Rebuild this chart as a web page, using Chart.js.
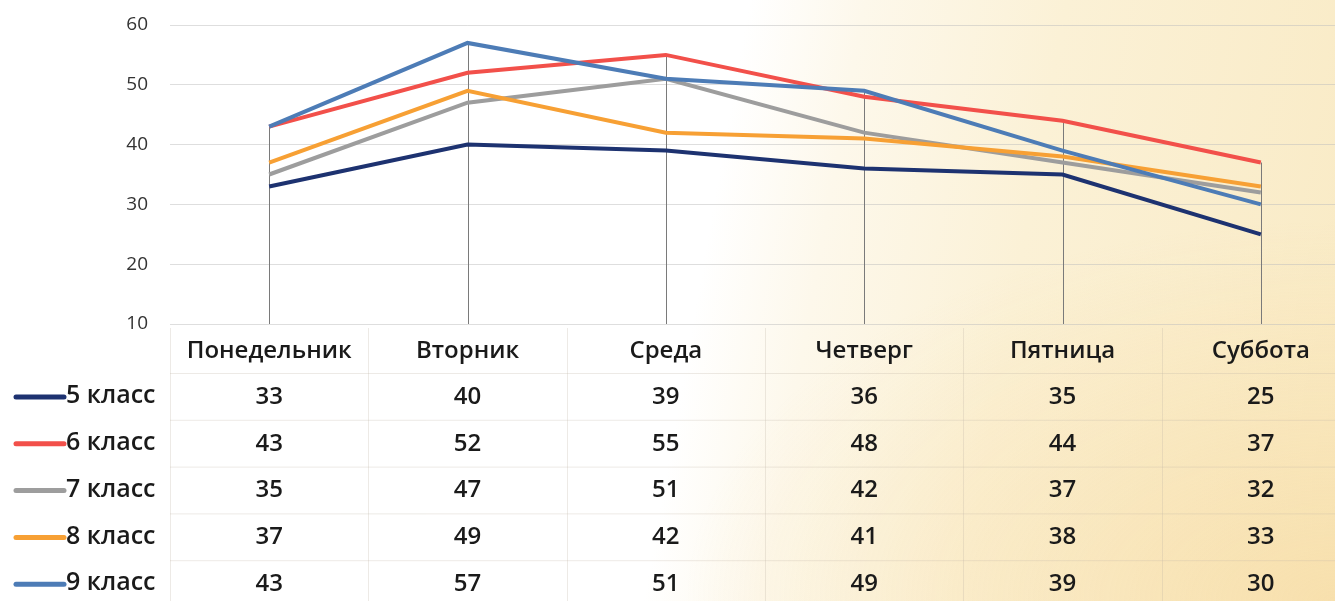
<!DOCTYPE html>
<html lang="ru">
<head>
<meta charset="utf-8">
<title>Классы по дням недели</title>
<script src="https://cdn.jsdelivr.net/npm/chart.js@4.4.1/dist/chart.umd.min.js"></script>
<style>
  html, body { margin: 0; padding: 0; width: 1335px; height: 601px; overflow: hidden; }
  body {
    background:
      radial-gradient(ellipse 650px 380px at 1335px 601px, rgba(246, 214, 150, 0.5), rgba(246, 214, 150, 0) 100%),
      linear-gradient(100deg, #ffffff 0%, #ffffff 52%, #fdf8eb 60%, #fbf1d6 74%, #f9eac4 100%);
  }
  #wrap { position: absolute; left: 0; top: 0; width: 1360px; height: 601px; }
</style>
</head>
<body>
<div id="wrap"><canvas id="chart"></canvas></div>
<script>
// === DATA ===
const days = ['Понедельник', 'Вторник', 'Среда', 'Четверг', 'Пятница', 'Суббота'];
const classNames = ['5 класс', '6 класс', '7 класс', '8 класс', '9 класс'];
const class5 = [33, 40, 39, 36, 35, 25];
const class6 = [43, 52, 55, 48, 44, 37];
const class7 = [35, 47, 51, 42, 37, 32];
const class8 = [37, 49, 42, 41, 38, 33];
const class9 = [43, 57, 51, 49, 39, 30];
const yTicks = [10, 20, 30, 40, 50, 60];

const series = [class5, class6, class7, class8, class9];
const colors = ['#1d3270', '#f2504a', '#9d9d9d', '#f7a034', '#4d7cb6'];
const FONT = '"Open Sans", "Noto Sans", sans-serif';

// drop lines from the highest point of each day down to the axis
const dropLines = {
  id: 'dropLines',
  beforeDatasetsDraw(chart) {
    const { ctx, chartArea, scales: { x, y } } = chart;
    ctx.save();
    ctx.strokeStyle = '#7a7a7a';
    ctx.lineWidth = 1;
    days.forEach((d, i) => {
      const top = Math.max(...series.map(s => s[i]));
      const px = Math.round(x.getPixelForValue(i)) + 0.5;
      ctx.beginPath();
      ctx.moveTo(px, y.getPixelForValue(top));
      ctx.lineTo(px, chartArea.bottom);
      ctx.stroke();
    });
    ctx.restore();
  }
};

// data table with legend keys under the plot
const dataTable = {
  id: 'dataTable',
  afterDraw(chart) {
    const { ctx, chartArea, scales: { x } } = chart;
    const step = x.getPixelForValue(1) - x.getPixelForValue(0);
    const headerY = 351;
    const row0 = 396;
    const rowH = 46.8;
    ctx.save();

    // faint table grid
    ctx.strokeStyle = 'rgba(190, 180, 165, 0.28)';
    ctx.lineWidth = 1;
    for (let i = 0; i <= days.length; i++) {
      const bx = Math.round(x.getPixelForValue(i) - step / 2) + 0.5;
      ctx.beginPath();
      ctx.moveTo(bx, chartArea.bottom + 4);
      ctx.lineTo(bx, 601);
      ctx.stroke();
    }
    for (let r = 0; r < classNames.length; r++) {
      const ly = Math.round(row0 - rowH / 2) + 0.5 + r * rowH;
      ctx.beginPath();
      ctx.moveTo(chartArea.left, ly);
      ctx.lineTo(1360, ly);
      ctx.stroke();
    }

    ctx.fillStyle = '#1a1a1a';
    ctx.textBaseline = 'middle';
    ctx.font = '600 24px ' + FONT;
    ctx.textAlign = 'center';
    days.forEach((d, i) => ctx.fillText(d, x.getPixelForValue(i), headerY));

    classNames.forEach((name, r) => {
      const ry = row0 + r * rowH;
      ctx.strokeStyle = colors[r];
      ctx.lineWidth = 5;
      ctx.lineCap = 'round';
      ctx.beginPath();
      ctx.moveTo(16, ry + 1);
      ctx.lineTo(64, ry + 1);
      ctx.stroke();

      ctx.textAlign = 'left';
      ctx.font = '600 25px ' + FONT;
      ctx.fillText(name, 66, ry);

      ctx.textAlign = 'center';
      ctx.font = '600 24px ' + FONT;
      series[r].forEach((v, i) => ctx.fillText(String(v), x.getPixelForValue(i), ry + 1));
    });
    ctx.restore();
  }
};

new Chart(document.getElementById('chart'), {
  type: 'line',
  data: {
    labels: days,
    datasets: series.map((s, k) => ({
      label: classNames[k],
      data: s,
      borderColor: colors[k],
      backgroundColor: colors[k],
      borderWidth: 4,
      pointRadius: 0,
      tension: 0,
      order: series.length - k
    }))
  },
  options: {
    responsive: true,
    maintainAspectRatio: false,
    animation: false,
    layout: { padding: { top: 25, bottom: 277, left: 0, right: 0 } },
    plugins: { legend: { display: false }, tooltip: { enabled: false } },
    scales: {
      x: { display: false, offset: true },
      y: {
        min: 10,
        max: 60,
        afterFit: s => { s.width = 170; s.paddingTop = 0; s.paddingBottom = 0; },
        afterBuildTicks: s => { s.ticks = yTicks.map(v => ({ value: v })); },
        border: { display: false },
        grid: { color: 'rgba(190, 190, 190, 0.5)', lineWidth: 1, drawTicks: false },
        ticks: { padding: 22, color: '#333', font: { family: FONT, size: 19 } }
      }
    }
  },
  plugins: [dropLines, dataTable]
});
</script>
</body>
</html>
